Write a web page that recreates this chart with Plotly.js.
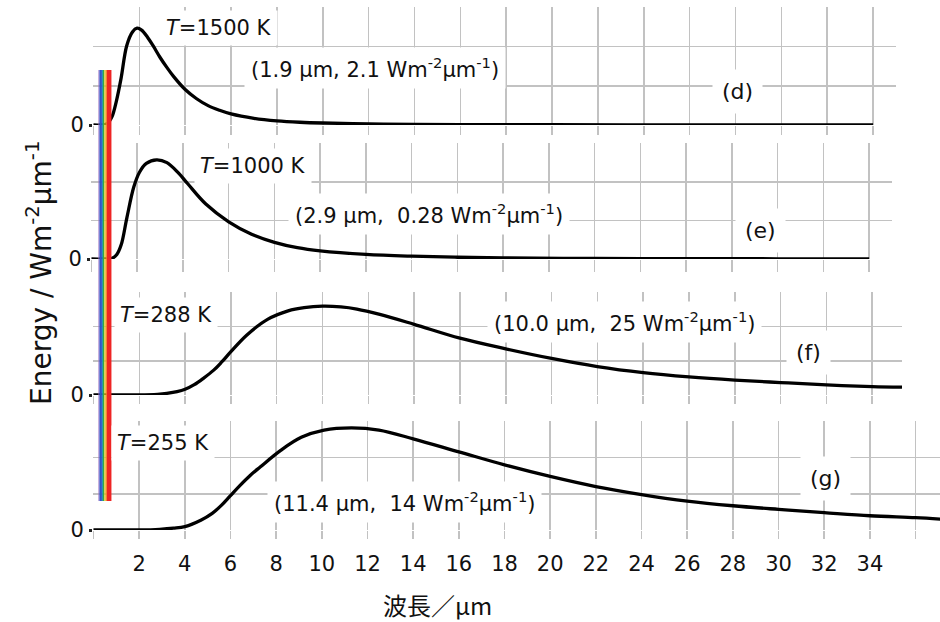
<!DOCTYPE html>
<html>
<head>
<meta charset="utf-8">
<script src="https://cdn.plot.ly/plotly-3.0.1.min.js"></script>
<style>html,body{margin:0;padding:0;background:#fff;}#chart{width:940px;height:622px;}</style>
</head>
<body>
<div id="chart"></div>
<script>
// ---- Data (wavelength in µm, energy in W m^-2 µm^-1) ----
const x1500 = [0, 0.3, 0.6, 0.8, 1.0, 1.2, 1.45, 1.7, 1.9, 2.1, 2.35, 2.6, 2.9, 3.2, 3.5, 4.0, 4.5, 5.0, 5.5, 6.0, 7.0, 8.0, 9.0, 10, 12, 14, 17, 20, 25, 30, 34];
const y1500 = [0, 0, 0.03, 0.17, 0.52, 1.0, 1.72, 2.02, 2.1, 2.06, 1.91, 1.72, 1.47, 1.25, 1.05, 0.77, 0.57, 0.42, 0.32, 0.24, 0.145, 0.09, 0.06, 0.043, 0.024, 0.015, 0.008, 0.005, 0.002, 0.001, 0.001];

const x1000 = [0, 0.5, 0.9, 1.1, 1.3, 1.55, 1.85, 2.1, 2.4, 2.85, 3.3, 3.8, 4.2, 5.0, 6.0, 7.0, 8.0, 9.0, 10, 12, 14, 16, 18, 22, 26, 30, 34];
const y1000 = [0, 0, 0.002, 0.012, 0.04, 0.117, 0.203, 0.245, 0.27, 0.28, 0.272, 0.243, 0.213, 0.155, 0.105, 0.07, 0.047, 0.032, 0.023, 0.013, 0.008, 0.005, 0.003, 0.0015, 0.001, 0.0006, 0.0004];

const x288 = [0, 1, 2, 2.8, 3.2, 3.65, 4.0, 4.4, 4.8, 5.25, 5.6, 6.0, 6.7, 7.6, 8.5, 9.2, 10, 10.8, 11.5, 12.5, 14, 16, 18, 20, 22, 24, 26, 28, 30, 32, 34, 35.3];
const y288 = [0, 0, 0.02, 0.2, 0.45, 0.93, 1.6, 2.9, 4.7, 7.0, 9.3, 12.2, 16.9, 21.3, 23.7, 24.6, 25.0, 24.8, 24.2, 22.7, 19.9, 16.0, 13.0, 10.3, 8.0, 6.3, 5.1, 4.2, 3.5, 2.85, 2.35, 2.2];

const x255 = [0, 1, 2, 2.9, 3.5, 4.0, 4.7, 5.2, 5.6, 6.0, 6.4, 6.85, 7.3, 8.2, 9.1, 10.1, 11.3, 12.5, 14, 16, 18, 20, 22, 24, 26, 28, 30, 32, 34, 36, 37.1];
const y255 = [0, 0, 0.01, 0.1, 0.25, 0.47, 1.35, 2.3, 3.4, 4.75, 6.1, 7.5, 8.7, 11.0, 12.8, 13.8, 14.1, 13.8, 12.6, 10.8, 9.0, 7.4, 6.0, 4.9, 4.0, 3.35, 2.85, 2.4, 1.97, 1.7, 1.5];

const tempLabels = ['<i>T</i>=1500 K', '<i>T</i>=1000 K', '<i>T</i>=288 K', '<i>T</i>=255 K'];
const peakLabels = ['(1.9 µm, 2.1 Wm<sup>-2</sup>µm<sup>-1</sup>)', '(2.9 µm,  0.28 Wm<sup>-2</sup>µm<sup>-1</sup>)', '(10.0 µm,  25 Wm<sup>-2</sup>µm<sup>-1</sup>)', '(11.4 µm,  14 Wm<sup>-2</sup>µm<sup>-1</sup>)'];
const panelLabels = ['(d)', '(e)', '(f)', '(g)'];
const gridStep = [0.85, 0.1087, 9.63, 5.0];   // value of one horizontal grid division per panel

const xLabelVals = [2, 4, 6, 8, 10, 12, 14, 16, 18, 20, 22, 24, 26, 28, 30, 32, 34];
const xLabelText = ['2', '4', '6', '8', '10', '12', '14', '16', '18', '20', '22', '24', '26', '28', '30', '32', '34'];
const xEdgeGrid = [0, 36];

// visible-spectrum strip (µm edges) and colours
const specEdges = [0.218, 0.261, 0.370, 0.414, 0.479, 0.523, 0.588, 0.784];
const specColors = ['#9b72c4', '#2f55c8', '#1f8fb0', '#3aa640', '#f0d41c', '#f28a1e', '#ee2424'];

// ---- Layout geometry (pixels in a 940x622 page) ----
const W = 940, H = 622;
const px = v => v / W, py = v => 1 - v / H;
const panels = [
  {xs: x1500, ys: y1500, left: 93, right: 896, xmax: 35,    base: 125, top: 7},
  {xs: x1000, ys: y1000, left: 91, right: 892, xmax: 35,    base: 259, top: 143},
  {xs: x288,  ys: y288,  left: 93, right: 902, xmax: 35.3,  base: 395, top: 292},
  {xs: x255,  ys: y255,  left: 93, right: 940, xmax: 37.07, base: 530, top: 421}
];
const tickLen = [9, 12, 8, 8];

const FONT = 'DejaVu Sans, sans-serif';
const GRID = '#c2c2c2';

const traces = [];
const layout = {
  width: W, height: H,
  margin: {l: 0, r: 0, t: 0, b: 0},
  paper_bgcolor: '#ffffff', plot_bgcolor: 'rgba(0,0,0,0)',
  showlegend: false,
  font: {family: FONT, color: '#111'},
  shapes: [], annotations: []
};

panels.forEach((p, i) => {
  const n = i === 0 ? '' : String(i + 1);
  traces.push({
    x: p.xs, y: p.ys, type: 'scatter', mode: 'lines',
    xaxis: 'x' + n, yaxis: 'y' + n,
    line: {color: '#000', width: 3.3, shape: 'spline', smoothing: 1.0},
    hoverinfo: 'skip'
  });
  const g = gridStep[i];
  layout['xaxis' + n] = {
    domain: [px(p.left), px(p.right)], anchor: 'y' + n,
    range: [-0.02, p.xmax], tickmode: 'array', tickvals: xLabelVals,
    ticktext: xLabelText, showticklabels: i === 3,
    ticks: 'outside', ticklen: tickLen[i], tickwidth: 1.5, tickcolor: GRID,
    showgrid: true, gridcolor: GRID, gridwidth: 1.5,
    minor: {tickmode: 'array', tickvals: xEdgeGrid, showgrid: true, gridcolor: GRID, gridwidth: 1.5,
            ticks: 'outside', ticklen: tickLen[i], tickwidth: 1.5, tickcolor: GRID},
    zeroline: false, showline: false, fixedrange: true,
    tickfont: {family: FONT, size: 21, color: '#111'},
    ticklabelstandoff: 7
  };
  layout['yaxis' + n] = {
    domain: [py(p.base), py(p.top)], anchor: 'x' + n,
    range: [0, 3 * g * 1.004], tickmode: 'array', tickvals: [0], ticktext: ['0'],
    ticks: 'outside', ticklen: 3, tickwidth: 3, tickcolor: '#222',
    showgrid: true, gridcolor: GRID, gridwidth: 1.5,
    minor: {tickmode: 'array', tickvals: [g, 2 * g, 3 * g], showgrid: true, gridcolor: GRID, gridwidth: 1.5, ticks: ''},
    zeroline: false, showline: false, fixedrange: true,
    tickfont: {family: FONT, size: 21, color: '#111'},
    ticklabelstandoff: 1
  };
});

// rainbow strip over all panels
specColors.forEach((c, k) => {
  layout.shapes.push({
    type: 'rect', xref: 'x', yref: 'paper', layer: 'above',
    x0: specEdges[k], x1: specEdges[k + 1], y0: py(501), y1: py(70),
    fillcolor: c, line: {width: 0}
  });
});

// text annotations (positions in page pixels)
const tPos = [[219, 28, 'center'], [253, 166, 'center'], [114, 315, 'left'], [111, 443, 'left']];
const pkPos = [[244, 68], [288, 214], [487, 322], [267, 502]];
const lbPos = [[737, 92], [760, 230], [808, 352], [825, 478]];
for (let i = 0; i < 4; i++) {
  layout.annotations.push({
    xref: 'paper', yref: 'paper', x: px(tPos[i][0]), y: py(tPos[i][1]),
    xanchor: tPos[i][2], yanchor: 'middle', showarrow: false,
    text: tempLabels[i], font: {family: FONT, size: 21, color: '#111'},
    bgcolor: '#ffffff', borderpad: 5
  });
  layout.annotations.push({
    xref: 'paper', yref: 'paper', x: px(pkPos[i][0]), y: py(pkPos[i][1]),
    xanchor: 'left', yanchor: 'middle', showarrow: false,
    text: peakLabels[i], font: {family: FONT, size: 21, color: '#111'},
    bgcolor: '#ffffff', borderpad: 6
  });
  layout.annotations.push({
    xref: 'paper', yref: 'paper', x: px(lbPos[i][0]), y: py(lbPos[i][1]),
    xanchor: 'center', yanchor: 'middle', showarrow: false,
    text: panelLabels[i], font: {family: FONT, size: 22, color: '#111'},
    bgcolor: '#ffffff', borderpad: 9
  });
}
// axis titles
layout.annotations.push({
  xref: 'paper', yref: 'paper', x: px(437), y: py(604), xanchor: 'center', yanchor: 'middle',
  showarrow: false, text: '波長／µm',
  font: {family: 'Noto Sans CJK JP, DejaVu Sans, sans-serif', size: 24, color: '#111'}
});
layout.annotations.push({
  xref: 'paper', yref: 'paper', x: px(40), y: py(273), xanchor: 'center', yanchor: 'middle',
  showarrow: false, textangle: -90, text: 'Energy / Wm<sup>-2</sup>µm<sup>-1</sup>',
  font: {family: FONT, size: 28, color: '#111'}
});

Plotly.newPlot('chart', traces, layout, {displayModeBar: false, staticPlot: true});
</script>
</body>
</html>
